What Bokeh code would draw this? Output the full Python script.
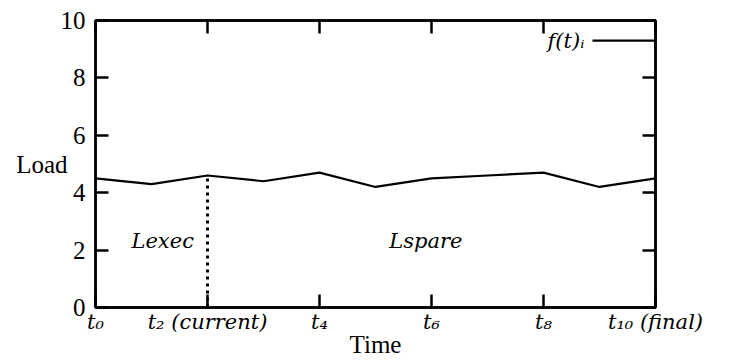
from bokeh.plotting import figure
from bokeh.models import LinearAxis, FixedTicker, Range1d, CustomLabelingPolicy
from bokeh.embed import file_html
from bokeh.resources import INLINE
from bokeh.core.properties import value

# data
t = [0, 1, 2, 3, 4, 5, 6, 7, 8, 9, 10]
load = [4.5, 4.3, 4.6, 4.4, 4.7, 4.2, 4.5, 4.6, 4.7, 4.2, 4.5]
current_t = 2
x_ticks = [0, 2, 4, 6, 8, 10]
x_tick_labels = ["t₀", "t₂ (current)", "t₄", "t₆", "t₈", "t₁₀ (final)"]
y_ticks = [0, 2, 4, 6, 8, 10]
series_name = "f(t)ᵢ"
region_labels = ["Lexec", "Lspare"]
region_x = [1.2, 5.9]
region_y = [2.3, 2.3]

FONT = "'Liberation Serif'"
IFONT = "'DejaVu Serif'"
FS = "25px"
IFS = "21px"

p = figure(frame_width=560, frame_height=287, output_backend="svg",
           toolbar_location=None, x_range=Range1d(0, 10), y_range=Range1d(0, 10),
           min_border_left=95, min_border_top=8, min_border_right=69, min_border_bottom=10,
           x_axis_label="Time", y_axis_label="Load")
p.grid.visible = False
p.outline_line_color = "black"
p.outline_line_width = 2.5
p.background_fill_color = "white"
p.border_fill_color = "white"

def style_axis(ax, ticks):
    ax.ticker = FixedTicker(ticks=ticks)
    ax.axis_line_color = "black"
    ax.axis_line_width = 2.5
    ax.major_tick_line_color = "black"
    ax.major_tick_line_width = 2.5
    ax.major_tick_in = 13
    ax.major_tick_out = 0
    ax.minor_tick_line_color = None
    ax.major_label_text_font = FONT
    ax.major_label_text_font_size = FS
    ax.major_label_text_color = "black"
    ax.axis_label_text_font = FONT
    ax.axis_label_text_font_size = FS
    ax.axis_label_text_font_style = "normal"
    ax.axis_label_text_color = "black"

xa = p.xaxis[0]
style_axis(xa, x_ticks)
xa.major_label_overrides = {k: v for k, v in zip(x_ticks, x_tick_labels)}
xa.major_label_text_font = IFONT
xa.major_label_text_font_size = IFS
xa.major_label_text_font_style = "italic"
xa.major_label_standoff = 2
xa.axis_label_standoff = -6

ya = p.yaxis[0]
style_axis(ya, y_ticks)
ya.major_label_standoff = 10
ya.axis_label_standoff = -10
ya.axis_label_orientation = "horizontal"

no_labels = CustomLabelingPolicy(code="return new Set()")
top = LinearAxis()
style_axis(top, x_ticks)
top.major_label_policy = no_labels
top.major_label_standoff = 0
p.add_layout(top, "above")
right = LinearAxis()
style_axis(right, y_ticks)
right.major_label_policy = no_labels
right.major_label_standoff = 0
p.add_layout(right, "right")

p.line(t, load, line_color="black", line_width=2.2)
p.segment(x0=[current_t], y0=[0], x1=[current_t], y1=[load[t.index(current_t)]],
          line_color="black", line_width=3, line_dash="3 4")

p.text(x=region_x, y=region_y, text=region_labels, text_font=value(IFONT),
       text_font_size=IFS, text_font_style="italic", text_align="center",
       text_baseline="middle", text_color="black")

# key: label on the left, sample line on the right (gnuplot style)
p.text(x=[8.73], y=[9.3], text=[series_name], text_font=value(IFONT),
       text_font_size=IFS, text_font_style="italic", text_align="right",
       text_baseline="middle", text_color="black")
p.segment(x0=[8.875], y0=[9.3], x1=[10], y1=[9.3], line_color="black", line_width=2.2)

open("out.html", "w").write(file_html(p, INLINE))
